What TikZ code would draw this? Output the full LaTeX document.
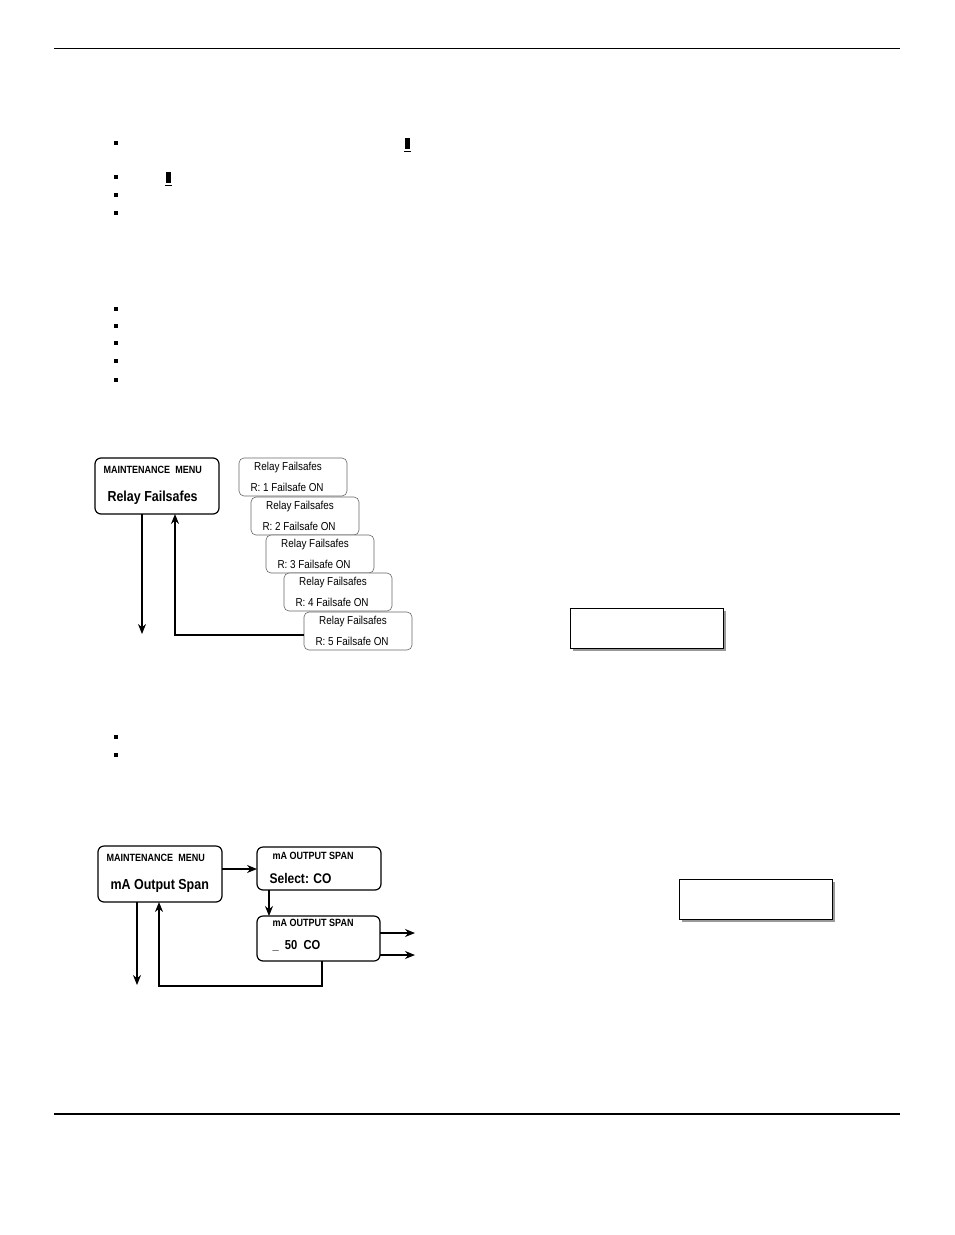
\documentclass[tikz,border=0pt]{standalone}
\usepackage{fontspec}
\usetikzlibrary{arrows.meta}
\setmainfont{Liberation Sans}
\newfontfamily\narrow[FakeStretch=0.86]{Liberation Sans}
\begin{document}
\begin{tikzpicture}[x=1pt,y=-1pt,
 scr/.style={draw,rounded corners=6pt,line width=1.2pt,inner sep=0pt},
 thin/.style={draw=black!60,rounded corners=5pt,line width=0.6pt,inner sep=0pt},
 arr/.style={-{Stealth[length=10pt,width=8pt]},line width=1.3pt},
 bul/.style={fill=black,minimum size=4.5pt,inner sep=0pt}]
\useasboundingbox (0,0) rectangle (954,1235);
\draw[line width=0.8pt] (54,48) -- (900,48);
\draw[line width=1.4pt] (54,1114) -- (900,1114);
\foreach \y in {143,177,195,213,309,326,343,361,380,737,755}
 \node[bul] at (116,\y) {};
\fill (405,138) rectangle (410,149); \draw (404,151)--(411,151);
\fill (166,172) rectangle (171,183); \draw (165,185)--(172,185);
% top diagram
\draw[scr] (95,458) rectangle (219,514);
\node[anchor=west,font=\narrow\bfseries\fontsize{10.5}{10}\selectfont] at (100,470) {MAINTENANCE\ \ MENU};
\node[anchor=west,font=\narrow\bfseries\fontsize{14.5}{14}\selectfont] at (104,498) {Relay Failsafes};
\foreach \i/\x/\y in {1/239/458,2/251/497,3/266/535,4/284/573,5/304/612}{
 \draw[thin,fill=white] (\x,\y) rectangle ++(108,38);
 \node[font=\narrow\fontsize{11.5}{10}\selectfont] at (\x+49,\y+10) {Relay Failsafes};
 \node[anchor=west,font=\narrow\fontsize{11.5}{10}\selectfont] at (\x+8,\y+29) {R: \i\ Failsafe ON};
 \coordinate (r\i) at (\x,\y+23);
}
\draw[arr] (142,514) -- (142,634);
\draw[arr] (r5) -- (175,635) -- (175,514);
\fill[black!40] (573,611) rectangle (726,651);
\draw[fill=white,line width=0.6pt] (570,608) rectangle (723,648);
% bottom diagram
\draw[scr] (98,846) rectangle (222,902);
\node[anchor=west,font=\narrow\bfseries\fontsize{10.5}{10}\selectfont] at (103,858) {MAINTENANCE\ \ MENU};
\node[anchor=west,font=\narrow\bfseries\fontsize{14.5}{14}\selectfont] at (107,886) {mA Output Span};
\draw[scr] (257,847) rectangle (381,890);
\node[anchor=west,font=\narrow\bfseries\fontsize{10.5}{10}\selectfont] at (269,856) {mA OUTPUT SPAN};
\node[anchor=west,font=\narrow\bfseries\fontsize{14}{14}\selectfont] at (266,878) {Select: CO};
\draw[scr] (257,916) rectangle (380,961);
\node[anchor=west,font=\narrow\bfseries\fontsize{10.5}{10}\selectfont] at (269,923) {mA OUTPUT SPAN};
\node[anchor=west,font=\narrow\bfseries\fontsize{13}{12}\selectfont] at (269,946) {\_\ \ 50\ \ CO};
\draw[arr] (222,869) -- (257,869);
\draw[arr] (269,890) -- (269,916);
\draw[arr] (380,933) -- (415,933);
\draw[arr] (380,955) -- (415,955);
\draw[arr] (137,902) -- (137,985);
\draw[arr] (322,961) -- (322,986) -- (159,986) -- (159,902);
\fill[black!40] (682,882) rectangle (835,922);
\draw[fill=white,line width=0.6pt] (679,879) rectangle (832,919);
\end{tikzpicture}
\end{document}
